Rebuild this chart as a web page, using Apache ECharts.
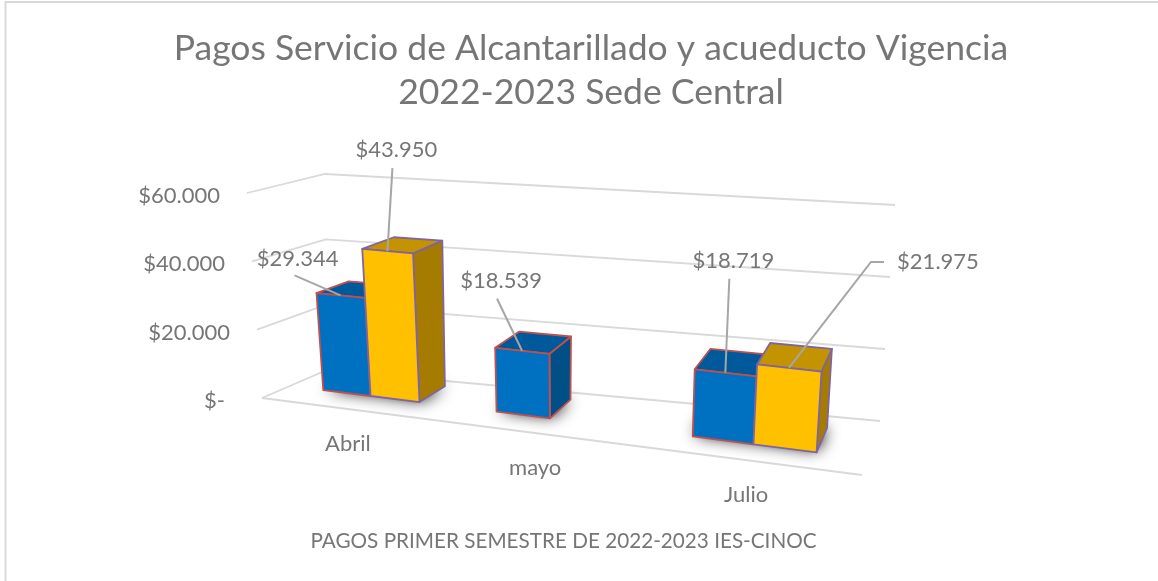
<!DOCTYPE html>
<html>
<head>
<meta charset="utf-8">
<style>
	html, body { margin: 0; padding: 0; background: #fff; }
	#chart { width: 1158px; height: 581px; }
</style>
<script src="https://cdn.jsdelivr.net/npm/echarts@6/dist/echarts.min.js"></script>
</head>
<body>
<div id="chart"></div>
<script>
// datos
const categories = ["Abril", "mayo", "Julio"];
const valuesBlue = [29344, 18539, 18719];
const valuesYellow = [43950, null, 21975];
const tickValues = [0, 20000, 40000, 60000];
const tickLabels = ["$-", "$20.000", "$40.000", "$60.000"];

const fontFamily = "Lato, 'Noto Sans', sans-serif";
const textColor = "#767676";
const gridColor = "#d9d9d9";

// esquinas de la caja 3D en pantalla: piso y desplazamiento hasta el valor maximo
const floorCorners = { fl: [262, 398], fr: [862, 475], bl: [327, 370], br: [880, 421] };
const wallLift = { fl: [-15, -205], fr: [17, -226], bl: [-2, -196], br: [15, -216] };
const barLift = { fl: [-22, -201], fr: [17, -226], bl: [-7, -192], br: [15, -216] };
const warpG = -0.164; // la derecha queda mas cerca de la camara
const barFrac = 0.285; // ancho de barra respecto a la banda de categoria

// desplazamiento de inicio de guia y etiqueta, respecto al centro del borde superior
const blueLabels = [
	{ line: [[-46, -20]], text: [-43, -36] },
	{ line: [[-25, -52]], text: [-21, -70] },
	{ line: [[4, -94]], text: [8, -112] },
];
const yellowLabels = [
	{ line: [[5, -83]], text: [9, -101] },
	null,
	{ line: [[95, -106], [82, -106]], text: [149, -106] },
];

function lerp(a, b, t) {
	return a + (b - a) * t;
}

function bilinear(c, u, d) {
	let out = [];
	for (let i = 0; i < 2; i++) {
		out.push(lerp(lerp(c.fl[i], c.fr[i], u), lerp(c.bl[i], c.br[i], u), d));
	}
	return out;
}

function warp(u) {
	return (u * (1 + warpG)) / (1 + warpG * u);
}

// u: fraccion de la escala de categorias, d: profundidad, w: fraccion de la escala de valores
function project(u, d, w, lift) {
	let uw = warp(u);
	let p = bilinear(floorCorners, uw, d);
	let l = bilinear(lift || wallLift, uw, d);
	return [p[0] + l[0] * w, p[1] + l[1] * w];
}

function frontDepth(u) {
	return 0.425 - 0.13 * warp(u);
}
function backDepth(u) {
	return 0.89 - 0.12 * warp(u);
}

function formatMoney(v) {
	return "$" + String(v).replace(/\B(?=(\d{3})+$)/g, ".");
}

// pasa el dato por los ejes de echarts y devuelve fracciones de la escala
function barBox(params, api, slot) {
	let cs = params.coordSys;
	let pt = api.coord([api.value(0), api.value(1)]);
	let band = api.size([1, 0])[0];
	let barW = band * barFrac;
	let left = pt[0] + (slot === 0 ? -barW - 2 : -2);
	return {
		u0: (left - cs.x) / cs.width,
		u1: (left + barW - cs.x) / cs.width,
		w: (cs.y + cs.height - pt[1]) / cs.height,
	};
}

function renderGrid(params, api) {
	let cs = params.coordSys;
	let w = (cs.y + cs.height - api.coord([0, api.value(1)])[1]) / cs.height;
	let children = [{
		type: "polyline",
		shape: { points: [project(0, 0, w), project(0, 1, w), project(1, 1, w)] },
		style: { stroke: gridColor, lineWidth: 1.8, fill: null },
	}];
	if (api.value(1) === 0) {
		children.push({
			type: "polyline",
			shape: { points: [project(0, 0, 0), project(1, 0, 0)] },
			style: { stroke: gridColor, lineWidth: 1.8, fill: null },
		});
	}
	let p = project(0, 0, w);
	children.push({
		type: "text",
		style: {
			text: tickLabels[params.dataIndex],
			x: p[0] - (api.value(1) === 0 ? 37 : 27),
			y: p[1] + 3,
			fill: textColor,
			fontFamily: fontFamily,
			fontSize: 22,
			align: "right",
			verticalAlign: "middle",
		},
	});
	return { type: "group", children: children };
}

function renderCategory(params, api) {
	let cs = params.coordSys;
	let x = api.coord([api.value(0), 0])[0];
	let p = project((x - cs.x) / cs.width, 0, 0);
	return {
		type: "text",
		style: {
			text: categories[api.value(0)],
			x: p[0],
			y: p[1] + 35,
			fill: textColor,
			fontFamily: fontFamily,
			fontSize: 22,
			align: "center",
			verticalAlign: "middle",
		},
	};
}

// la sombra queda escondida bajo la barra, solo se ve el difuminado
function makeShadow(slot) {
	return function (params, api) {
		let b = barBox(params, api, slot);
		let pts = [
			project(b.u0, frontDepth(b.u0) + 0.05, 0),
			project(b.u1, frontDepth(b.u1) + 0.05, 0),
			project(b.u1, backDepth(b.u1) - 0.02, 0),
			project(b.u0, backDepth(b.u0) - 0.02, 0),
		];
		return {
			type: "polygon",
			shape: { points: pts },
			style: { fill: "#444", shadowBlur: 16, shadowColor: "#000" },
		};
	};
}

function makeBar(slot, colors) {
	return function (params, api) {
		let b = barBox(params, api, slot);
		let d00 = frontDepth(b.u0), d01 = frontDepth(b.u1);
		let d10 = backDepth(b.u0), d11 = backDepth(b.u1);
		let line = { stroke: colors.edge, lineWidth: 1.8, lineJoin: "round" };
		function face(points, fill) {
			return { type: "polygon", shape: { points: points }, style: Object.assign({ fill: fill }, line) };
		}
		function pr(u, d, w) {
			return project(u, d, w, barLift);
		}
		return {
			type: "group",
			children: [
				face([pr(b.u1, d01, 0), pr(b.u1, d11, 0), pr(b.u1, d11, b.w), pr(b.u1, d01, b.w)], colors.side),
				face([pr(b.u0, d00, b.w), pr(b.u1, d01, b.w), pr(b.u1, d11, b.w), pr(b.u0, d10, b.w)], colors.top),
				face([pr(b.u0, d00, 0), pr(b.u1, d01, 0), pr(b.u1, d01, b.w), pr(b.u0, d00, b.w)], colors.front),
			],
		};
	};
}

function makeLabel(slot, layout) {
	return function (params, api) {
		let b = barBox(params, api, slot);
		let um = (b.u0 + b.u1) / 2;
		// mitad del borde frontal superior
		let a = project(um, frontDepth(um), b.w, barLift);
		let cfg = layout[api.value(0)];
		let pts = cfg.line.map((o) => [a[0] + o[0], a[1] + o[1]]);
		pts.push(a);
		return {
			type: "group",
			children: [
				{ type: "polyline", shape: { points: pts }, style: { stroke: "#a6a6a6", lineWidth: 2, fill: null } },
				{
					type: "text",
					style: {
						text: formatMoney(api.value(1)),
						x: a[0] + cfg.text[0],
						y: a[1] + cfg.text[1],
						fill: textColor,
						fontFamily: fontFamily,
						fontSize: 22,
						align: "center",
						verticalAlign: "middle",
					},
				},
			],
		};
	};
}

function toData(values) {
	let out = [];
	values.forEach((v, i) => {
		if (v !== null) out.push([i, v]);
	});
	return out;
}

const blueData = toData(valuesBlue);
const yellowData = toData(valuesYellow);

function customSeries(name, data, renderItem) {
	return { type: "custom", name: name, data: data, renderItem: renderItem, encode: { x: 0, y: 1 }, silent: true, animation: false };
}

let chart = echarts.init(document.getElementById("chart"));
chart.setOption({
	animation: false,
	backgroundColor: "#fff",
	title: [
		{
			text: "Pagos Servicio de Alcantarillado y acueducto Vigencia\n2022-2023 Sede Central",
			left: 586,
			top: 22,
			textAlign: "center",
			textStyle: { color: textColor, fontFamily: fontFamily, fontSize: 35.5, fontWeight: "normal", lineHeight: 44 },
		},
		{
			text: "PAGOS PRIMER SEMESTRE DE 2022-2023 IES-CINOC",
			left: 558.5,
			top: 526,
			textAlign: "center",
			textStyle: { color: textColor, fontFamily: fontFamily, fontSize: 20.7, fontWeight: "normal" },
		},
	],
	graphic: [
		{
			type: "rect",
			shape: { x: 5.5, y: 2, width: 1200, height: 640 },
			style: { fill: null, stroke: gridColor, lineWidth: 2 },
			silent: true,
		},
	],
	grid: { left: 100, right: 100, top: 100, bottom: 100 },
	xAxis: { type: "category", data: categories, show: false },
	yAxis: { type: "value", min: 0, max: 60000, interval: 20000, show: false },
	series: [
		customSeries("ejes", tickValues.map((v) => [0, v]), renderGrid),
		customSeries("categorias", categories.map((c, i) => [i, 0]), renderCategory),
		customSeries("sombra azul", blueData, makeShadow(0)),
		customSeries("sombra amarilla", yellowData, makeShadow(1)),
		customSeries("Azul", blueData, makeBar(0, { front: "#0070c0", top: "#00599a", side: "#004f87", edge: "#c0504d" })),
		customSeries("Amarillo", yellowData, makeBar(1, { front: "#ffc000", top: "#c49300", side: "#a67c00", edge: "#8064a2" })),
		customSeries("etiquetas azul", blueData, makeLabel(0, blueLabels)),
		customSeries("etiquetas amarillo", yellowData, makeLabel(1, yellowLabels)),
	],
});
</script>
</body>
</html>
